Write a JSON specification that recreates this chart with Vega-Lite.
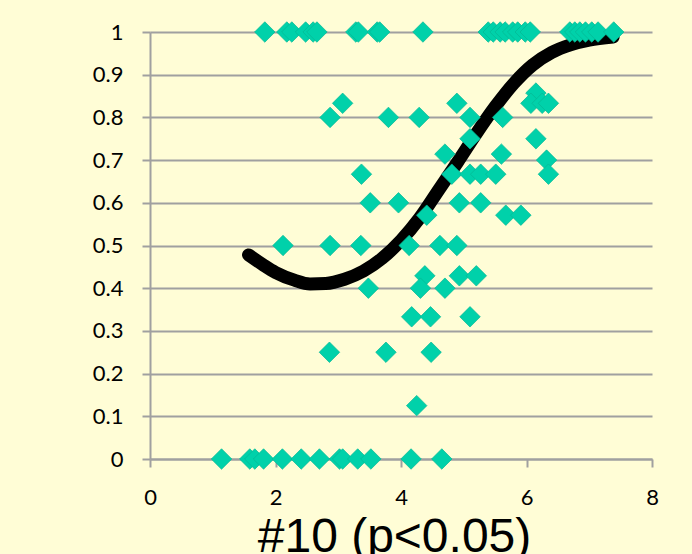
{
  "$schema": "https://vega.github.io/schema/vega-lite/v6.json",
  "width": 502,
  "height": 427,
  "autosize": {"type": "none"},
  "padding": {"left": 150, "top": 32, "right": 40, "bottom": 95},
  "background": "#FFFDD6",
  "config": {"view": {"stroke": null}},
  "datasets": {
    "points": [
      {"x": 1.83, "y": 1}, {"x": 2.18, "y": 1}, {"x": 2.26, "y": 1}, {"x": 2.48, "y": 1}, {"x": 2.6, "y": 1}, {"x": 2.66, "y": 1},
      {"x": 3.28, "y": 1}, {"x": 3.32, "y": 1}, {"x": 3.62, "y": 1}, {"x": 3.66, "y": 1}, {"x": 4.35, "y": 1},
      {"x": 5.39, "y": 1}, {"x": 5.47, "y": 1}, {"x": 5.58, "y": 1}, {"x": 5.66, "y": 1},
      {"x": 5.78, "y": 1}, {"x": 5.86, "y": 1}, {"x": 5.98, "y": 1}, {"x": 6.06, "y": 1},
      {"x": 6.69, "y": 1}, {"x": 6.77, "y": 1}, {"x": 6.85, "y": 1}, {"x": 6.94, "y": 1}, {"x": 7.04, "y": 1}, {"x": 7.14, "y": 1}, {"x": 7.39, "y": 1},
      {"x": 6.15, "y": 0.857},
      {"x": 3.07, "y": 0.833}, {"x": 4.89, "y": 0.833}, {"x": 6.07, "y": 0.833}, {"x": 6.25, "y": 0.833}, {"x": 6.35, "y": 0.833},
      {"x": 2.87, "y": 0.8}, {"x": 3.8, "y": 0.8}, {"x": 4.29, "y": 0.8}, {"x": 5.1, "y": 0.8}, {"x": 5.62, "y": 0.8},
      {"x": 5.1, "y": 0.75}, {"x": 6.15, "y": 0.75},
      {"x": 4.7, "y": 0.714}, {"x": 5.6, "y": 0.714},
      {"x": 6.32, "y": 0.7},
      {"x": 3.37, "y": 0.667}, {"x": 4.81, "y": 0.667}, {"x": 5.1, "y": 0.667}, {"x": 5.27, "y": 0.667}, {"x": 5.51, "y": 0.667}, {"x": 6.35, "y": 0.667},
      {"x": 3.51, "y": 0.6}, {"x": 3.96, "y": 0.6}, {"x": 4.93, "y": 0.6}, {"x": 5.27, "y": 0.6},
      {"x": 4.41, "y": 0.571}, {"x": 5.67, "y": 0.571}, {"x": 5.91, "y": 0.571},
      {"x": 2.12, "y": 0.5}, {"x": 2.87, "y": 0.5}, {"x": 3.36, "y": 0.5}, {"x": 4.13, "y": 0.5}, {"x": 4.62, "y": 0.5}, {"x": 4.89, "y": 0.5},
      {"x": 4.38, "y": 0.429}, {"x": 4.93, "y": 0.429}, {"x": 5.2, "y": 0.429},
      {"x": 3.48, "y": 0.4}, {"x": 4.31, "y": 0.4}, {"x": 4.7, "y": 0.4},
      {"x": 4.17, "y": 0.333}, {"x": 4.47, "y": 0.333}, {"x": 5.1, "y": 0.333},
      {"x": 2.86, "y": 0.25}, {"x": 3.76, "y": 0.25}, {"x": 4.48, "y": 0.25},
      {"x": 4.25, "y": 0.125},
      {"x": 1.14, "y": 0}, {"x": 1.59, "y": 0}, {"x": 1.67, "y": 0}, {"x": 1.81, "y": 0}, {"x": 2.11, "y": 0}, {"x": 2.41, "y": 0},
      {"x": 2.7, "y": 0}, {"x": 3.02, "y": 0}, {"x": 3.07, "y": 0}, {"x": 3.31, "y": 0}, {"x": 3.52, "y": 0}, {"x": 4.16, "y": 0}, {"x": 4.65, "y": 0}
    ],
    "curve": [
      {"x": 1.57, "y": 0.478}, {"x": 1.8, "y": 0.455}, {"x": 2.0, "y": 0.437}, {"x": 2.3, "y": 0.419},
      {"x": 2.55, "y": 0.41}, {"x": 2.8, "y": 0.411}, {"x": 3.1, "y": 0.421}, {"x": 3.4, "y": 0.44},
      {"x": 3.7, "y": 0.47}, {"x": 4.0, "y": 0.512}, {"x": 4.3, "y": 0.565}, {"x": 4.6, "y": 0.63},
      {"x": 4.9, "y": 0.695}, {"x": 5.2, "y": 0.762}, {"x": 5.5, "y": 0.825}, {"x": 5.8, "y": 0.88},
      {"x": 6.1, "y": 0.923}, {"x": 6.4, "y": 0.952}, {"x": 6.7, "y": 0.97}, {"x": 7.0, "y": 0.981}, {"x": 7.38, "y": 0.988}
    ]
  },
  "encoding": {
    "x": {
      "field": "x", "type": "quantitative",
      "scale": {"domain": [0, 8], "nice": false, "zero": false},
      "axis": {
        "values": [0, 2, 4, 6, 8], "format": "d", "grid": false,
        "domainColor": "#A0A0A0", "domainWidth": 2,
        "tickColor": "#A0A0A0", "tickWidth": 2, "tickSize": 8,
        "labelFont": "Lato", "labelFontSize": 22, "labelColor": "#000000", "labelPadding": 20,
        "labelFlush": false, "labelOverlap": false,
        "title": "#10 (p<0.05)", "titleFont": "Liberation Sans", "titleFontSize": 48,
        "titleFontWeight": "normal", "titleColor": "#000000", "titleBaseline": "alphabetic",
        "titleAlign": "center", "titleX": 244, "titleY": 92
      }
    },
    "y": {
      "field": "y", "type": "quantitative",
      "scale": {"domain": [0, 1], "nice": false},
      "axis": {
        "values": [0, 0.1, 0.2, 0.3, 0.4, 0.5, 0.6, 0.7, 0.8, 0.9, 1], "format": ".1~f",
        "grid": true, "gridColor": "#A0A0A0", "gridWidth": 2,
        "domainColor": "#A0A0A0", "domainWidth": 2,
        "tickColor": "#A0A0A0", "tickWidth": 2, "tickSize": 8,
        "labelFont": "Lato", "labelFontSize": 22, "labelColor": "#000000", "labelPadding": 19,
        "labelFlush": false, "labelOverlap": false, "title": null
      }
    }
  },
  "layer": [
    {
      "data": {"name": "curve"},
      "mark": {"type": "line", "color": "#000000", "strokeWidth": 13, "strokeCap": "round", "strokeJoin": "round", "interpolate": "monotone"}
    },
    {
      "data": {"name": "points"},
      "mark": {"type": "point", "shape": "diamond", "filled": true, "size": 420, "fill": "#00D1AA", "opacity": 1, "stroke": "#04B894", "strokeWidth": 0.7}
    }
  ]
}
